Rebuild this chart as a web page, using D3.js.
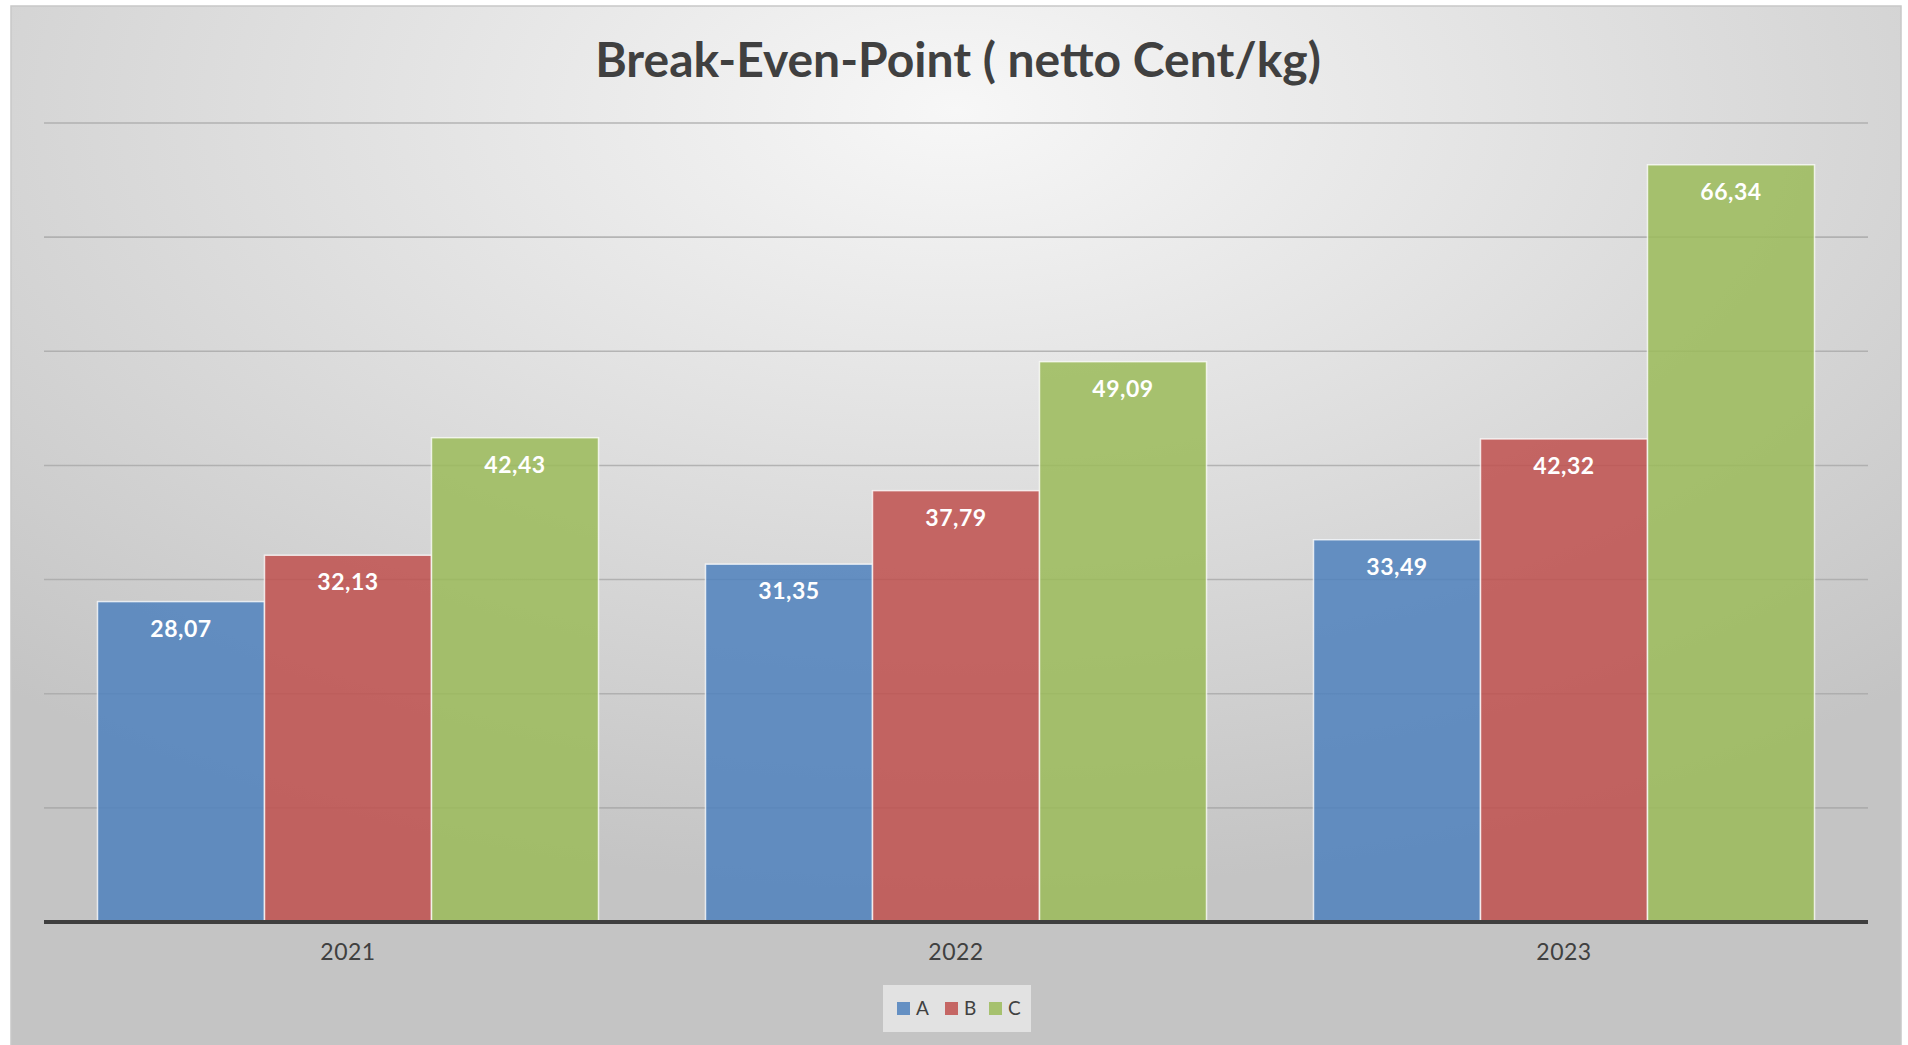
<!DOCTYPE html>
<html>
<head>
<meta charset="utf-8">
<script src="https://cdn.jsdelivr.net/npm/d3@7"></script>
<style>
  html, body { margin: 0; padding: 0; background: #fff; }
  svg { display: block; }
  text { font-family: Lato, "Open Sans", sans-serif; }
</style>
</head>
<body>
<div id="chart"></div>
<script>
// chart values
const years = ["2021", "2022", "2023"]
const seriesNames = ["A", "B", "C"]
const valuesA = [28.07, 31.35, 33.49]
const valuesB = [32.13, 37.79, 42.32]
const valuesC = [42.43, 49.09, 66.34]
const gridTicks = [10, 20, 30, 40, 50, 60, 70]
const seriesColors = ["#4F81BD", "#C0504D", "#9BBB59"]
const title = "Break-Even-Point ( netto Cent/kg)"

document.addEventListener("DOMContentLoaded", setup)

function setup() {
    const width = 1908
    const height = 1045
    const frame = {left: 11, top: 6, right: 1901, bottom: 1045}
    const plot = {left: 44, right: 1868, top: 123, bottom: 922}

    const svg = d3.select("#chart").append("svg")
        .attr("width", width)
        .attr("height", height)

    // background gradient like the office chart area
    const defs = svg.append("defs")
    const grad = defs.append("radialGradient")
        .attr("id", "bg")
        .attr("cx", "50%").attr("cy", "10%")
        .attr("r", "75%")
        .attr("fx", "50%").attr("fy", "10%")
    grad.append("stop").attr("offset", "0%").attr("stop-color", "#f7f7f7")
    grad.append("stop").attr("offset", "100%").attr("stop-color", "#c4c4c4")

    svg.append("rect")
        .attr("x", frame.left)
        .attr("y", frame.top)
        .attr("width", frame.right - frame.left)
        .attr("height", frame.bottom - frame.top + 2)
        .attr("fill", "url(#bg)")
        .attr("stroke", "#c8c8c8")
        .attr("stroke-width", 1.5)

    const rows = years.map((y, i) => ({year: y, values: [valuesA[i], valuesB[i], valuesC[i]]}))

    const x0 = d3.scaleBand()
        .domain(years)
        .range([plot.left, plot.right])
        .paddingInner(0.176)
        .paddingOuter(0.088)

    const x1 = d3.scaleBand()
        .domain(seriesNames)
        .range([0, x0.bandwidth()])

    const y = d3.scaleLinear()
        .domain([0, 70])
        .range([plot.bottom, plot.top])

    // gridlines
    svg.append("g")
        .selectAll("line")
        .data(gridTicks)
        .join("line")
        .attr("x1", plot.left)
        .attr("x2", plot.right)
        .attr("y1", d => y(d))
        .attr("y2", d => y(d))
        .attr("stroke", "#a8a8a8")
        .attr("stroke-opacity", 0.8)
        .attr("stroke-width", 1.6)

    // bars
    const groups = svg.append("g")
        .selectAll("g")
        .data(rows)
        .join("g")
        .attr("transform", d => "translate(" + x0(d.year) + ",0)")

    groups.selectAll("rect")
        .data(d => d.values.map((v, i) => ({name: seriesNames[i], value: v, i: i})))
        .join("rect")
        .attr("x", d => x1(d.name))
        .attr("y", d => y(d.value))
        .attr("width", x1.bandwidth())
        .attr("height", d => y(0) - y(d.value))
        .attr("fill", d => seriesColors[d.i])
        .attr("fill-opacity", 0.85)
        .attr("stroke", "#ffffff")
        .attr("stroke-opacity", 0.75)
        .attr("stroke-width", 1.5)

    groups.selectAll("text")
        .data(d => d.values.map((v, i) => ({name: seriesNames[i], value: v})))
        .join("text")
        .attr("x", d => x1(d.name) + x1.bandwidth() / 2)
        .attr("y", d => y(d.value) + 35)
        .attr("text-anchor", "middle")
        .attr("fill", "#ffffff")
        .attr("font-size", 23)
        .attr("font-weight", 700)
        .attr("letter-spacing", 0.5)
        .text(d => d3.format(".2f")(d.value).replace(".", ","))

    // axis baseline + category labels
    const xAxis = svg.append("g")
        .attr("transform", "translate(0," + plot.bottom + ")")
        .call(d3.axisBottom(x0).tickSize(0).tickPadding(38))
    xAxis.select(".domain")
        .attr("stroke", "#3f3f3f")
        .attr("stroke-width", 4)
        .attr("d", "M" + plot.left + ",0H" + plot.right)
    xAxis.selectAll("text")
        .attr("font-family", "Lato, sans-serif")
        .attr("font-size", 23)
        .attr("fill", "#404040")
        .attr("letter-spacing", 0.5)
        .attr("dy", 0)

    // title
    svg.append("text")
        .attr("x", 958)
        .attr("y", 77)
        .attr("text-anchor", "middle")
        .attr("font-size", 48)
        .attr("font-weight", 700)
        .attr("fill", "#404040")
        .text(title)

    // legend
    const legend = svg.append("g")
    legend.append("rect")
        .attr("x", 883).attr("y", 985)
        .attr("width", 148).attr("height", 47)
        .attr("fill", "#e2e2e2")
    const legendX = [897, 945, 989]
    const items = legend.selectAll("g")
        .data(seriesNames)
        .join("g")
        .attr("transform", (d, i) => "translate(" + legendX[i] + ",1002)")
    items.append("rect")
        .attr("width", 13).attr("height", 13)
        .attr("fill", (d, i) => seriesColors[i])
        .attr("fill-opacity", 0.85)
    items.append("text")
        .attr("x", 19)
        .attr("y", 13)
        .attr("font-size", 19)
        .attr("fill", "#404040")
        .text(d => d)
}
</script>
</body>
</html>
